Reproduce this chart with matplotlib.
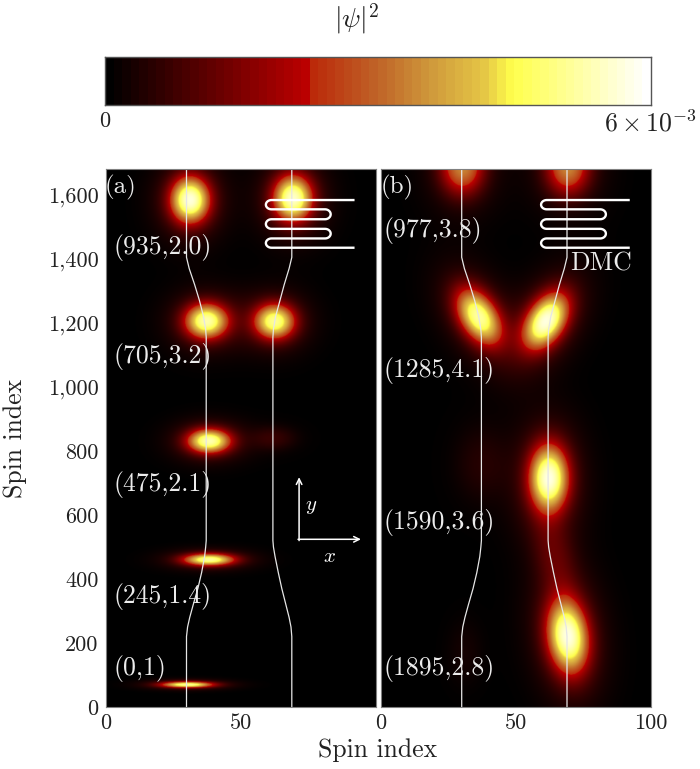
import numpy as np
import matplotlib
matplotlib.use('Agg')
import matplotlib.pyplot as plt
from matplotlib.colors import LinearSegmentedColormap

plt.rcParams['font.family'] = ['cmr10', 'DejaVu Sans']
plt.rcParams['mathtext.fontset'] = 'cm'
plt.rcParams['axes.formatter.use_mathtext'] = True

W, H = 700, 769

# Colour stops of the colourbar
cmap_pos = [0.0, 0.375, 0.38, 0.5, 0.6, 0.7, 0.75, 1.0]
cmap_col = ['#000000', '#c00000', '#bb2a0a', '#c06428', '#d09a3c', '#e6c846', '#ffff4c', '#ffffff']

# Density spots: the original data is not
# available, so each panel's field is approximated by these spots
a_x = [30, 38, 38, 62, 37, 62.3, 31, 69]
a_y = [69, 460, 831, 840, 1206, 1205, 1585, 1590]
a_amp = [0.86, 0.86, 0.89, 0.1, 0.88, 0.84, 0.95, 0.92]
a_sx = [6.5, 6.5, 5.5, 5.5, 5.5, 5.2, 5.0, 5.0]
a_sy = [6.5, 13, 26, 25, 38, 38, 50, 50]
a_tilt = [0, 0, 0, 0, 0, 0, 0, 0]

b_x = [30, 69, 36, 61, 62, 37, 69, 64, 31]
b_y = [1690, 1690, 1220, 1207, 715, 760, 220, 470, 170]
b_amp = [0.56, 0.56, 0.86, 0.95, 0.95, 0.07, 0.95, 0.14, 0.04]
b_sx = [5.5, 5.5, 5.2, 5.2, 5.0, 6.5, 5.2, 5.0, 4.5]
b_sy = [60, 60, 60, 60, 72, 80, 80, 90, 70]
b_tilt = [0, 0, -0.04, 0.04, 0, 0, -0.01, -0.02, 0]

# Waveguide centre lines (spin index along y, position along x)
guide_y = [0, 220, 250, 280, 320, 370, 420, 470, 500, 520, 1155, 1180, 1220, 1270, 1320, 1370, 1405, 1680]
guide_left = [30, 30, 30.4, 31.2, 32.5, 34.2, 35.6, 36.7, 37.1, 37.3, 37.3, 37.1, 36.3, 34.8, 33, 31, 30, 30]
guide_right = [69, 69, 68.7, 68, 66.8, 65.3, 64, 62.8, 62.2, 62, 62, 62.2, 63, 64.6, 66.2, 68, 69, 69]

# Meander of the inset sketch
rung_y = [1584, 1555, 1524, 1494, 1464, 1435]
rung_left, rung_right = 61.5, 81.3
lead_end = 91.8

a_labels = ['(935,2.0)', '(705,3.2)', '(475,2.1)', '(245,1.4)', '(0,1)']
a_label_px = [247.7, 357, 485, 596, 668]
b_labels = ['(977,3.8)', '(1285,4.1)', '(1590,3.6)', '(1895,2.8)']
b_label_px = [230.7, 370.7, 522, 668]

y_ticks = [0, 200, 400, 600, 800, 1000, 1200, 1400, 1600]
x_ticks = [0, 50, 100]
x_max, y_max = 100, 1681

cmap = LinearSegmentedColormap.from_list('hot_bar', list(zip(cmap_pos, cmap_col)), N=256)
cmap_bar = LinearSegmentedColormap.from_list('hot_bar64', list(zip(cmap_pos, cmap_col)), N=64)
text_col = '#ececec'
edge_col = '#7f7f7f'


def field(xs, ys, amp, sx, sy, tilt):
    gx, gy = np.meshgrid(np.linspace(0, x_max, 500), np.linspace(0, y_max, 900))
    z = np.zeros_like(gx)
    for x0, y0, a, s1, s2, k in zip(xs, ys, amp, sx, sy, tilt):
        dx = gx - x0 - k * (gy - y0)
        r2 = (dx / s1) ** 2 + ((gy - y0) / s2) ** 2
        # slightly flatter top than a plain gaussian, with a faint wide skirt
        spot = 0.8 * np.exp(-(r2 / 2) ** 1.15) + 0.2 * np.exp(-r2 / 6)
        z = z + a * spot
    return np.clip(z, 0, 1)


def meander():
    t = np.linspace(np.pi / 2, -np.pi / 2, 20)
    xs = [lead_end]
    ys = [rung_y[0]]
    for i in range(len(rung_y) - 1):
        mid = (rung_y[i] + rung_y[i + 1]) / 2
        half = (rung_y[i] - rung_y[i + 1]) / 2
        if i % 2 == 0:
            xs.extend(rung_left - 2.1 * np.cos(t))
        else:
            xs.extend(rung_right + 2.1 * np.cos(t))
        ys.extend(mid + half * np.sin(t))
    xs.append(lead_end)
    ys.append(rung_y[-1])
    return xs, ys


def add_axes_px(fig, left, top, right, bottom):
    return fig.add_axes([left / W, 1 - bottom / H, (right - left) / W, (bottom - top) / H])


def draw_panel(ax, z):
    ax.imshow(z, origin='lower', extent=[0, x_max, 0, y_max], cmap=cmap, vmin=0, vmax=1,
              aspect='auto', interpolation='bilinear')
    ax.plot(guide_left, guide_y, color='#e6e6e6', lw=0.9)
    ax.plot(guide_right, guide_y, color='#e6e6e6', lw=0.9)
    mx, my = meander()
    ax.plot(mx, my, color='white', lw=1.7)
    ax.set_xlim(0, x_max)
    ax.set_ylim(0, y_max)
    ax.set_xticks(x_ticks)
    ax.tick_params(length=0, labelsize=16, colors='#222222', pad=5)
    for s in ax.spines.values():
        s.set_color(edge_col)
        s.set_linewidth(0.8)


def px_to_y(py):
    return (707 - py) / 538 * y_max


fig = plt.figure(figsize=(W / 100, H / 100), dpi=100)

# Colourbar
cax = add_axes_px(fig, 105, 57, 651, 105)
cax.imshow(np.linspace(0, 1, 64)[None, :], cmap=cmap_bar, aspect='auto', extent=[0, 1, 0, 1])
cax.set_xticks([])
cax.set_yticks([])
for s in cax.spines.values():
    s.set_color('#555555')
    s.set_linewidth(1.0)
fig.text(357 / W, 1 - 19 / H, r'$|\psi|^2$', fontsize=20, ha='center', va='center', color='#222222')
fig.text(105 / W, 1 - 121 / H, '0', fontsize=16, ha='center', va='center', color='#222222')
fig.text(650 / W, 1 - 123 / H, r'$6\times10^{-3}$', fontsize=18.5, ha='center', va='center', color='#222222')

# Panel (a)
ax1 = add_axes_px(fig, 105.5, 169, 375.5, 707)
draw_panel(ax1, field(a_x, a_y, a_amp, a_sx, a_sy, a_tilt))
ax1.set_yticks(y_ticks)
ax1.set_yticklabels([f'{v:,}' for v in y_ticks])
ax1.set_xticklabels(['0', '50', ''])
ax1.text(-0.3, px_to_y(187), '(a)', color=text_col, fontsize=18, va='center')
for lab, py in zip(a_labels, a_label_px):
    ax1.text(3.1, px_to_y(py), lab, color=text_col, fontsize=18.5, va='center')

ax1.annotate('', xy=(71.7, 718), xytext=(71.7, 520),
             arrowprops=dict(arrowstyle='->', color='white', lw=1.1, shrinkA=0, shrinkB=0))
ax1.annotate('', xy=(94.6, 524), xytext=(71.3, 524),
             arrowprops=dict(arrowstyle='->', color='white', lw=1.1, shrinkA=0, shrinkB=0))
ax1.text(76, 625, '$y$', color='white', fontsize=15, ha='center', va='center')
ax1.text(83, 470, '$x$', color='white', fontsize=15, ha='center', va='center')

# Panel (b)
ax2 = add_axes_px(fig, 380.7, 169, 650.7, 707)
draw_panel(ax2, field(b_x, b_y, b_amp, b_sx, b_sy, b_tilt))
ax2.set_yticks([])
ax2.set_xticklabels(['0', '50', '100'])
ax2.text(-0.2, px_to_y(187), '(b)', color=text_col, fontsize=18, va='center')
for lab, py in zip(b_labels, b_label_px):
    ax2.text(0.9, px_to_y(py), lab, color=text_col, fontsize=18.5, va='center')
ax2.text(70, px_to_y(264), 'DMC', color=text_col, fontsize=18.5, va='center')

fig.text(378 / W, 1 - 750 / H, 'Spin index', fontsize=18.5, ha='center', va='center', color='#222222')
fig.text(15 / W, 1 - 438 / H, 'Spin index', fontsize=18.5, ha='center', va='center',
         rotation=90, color='#222222')

fig.savefig('out.png', dpi=100)
